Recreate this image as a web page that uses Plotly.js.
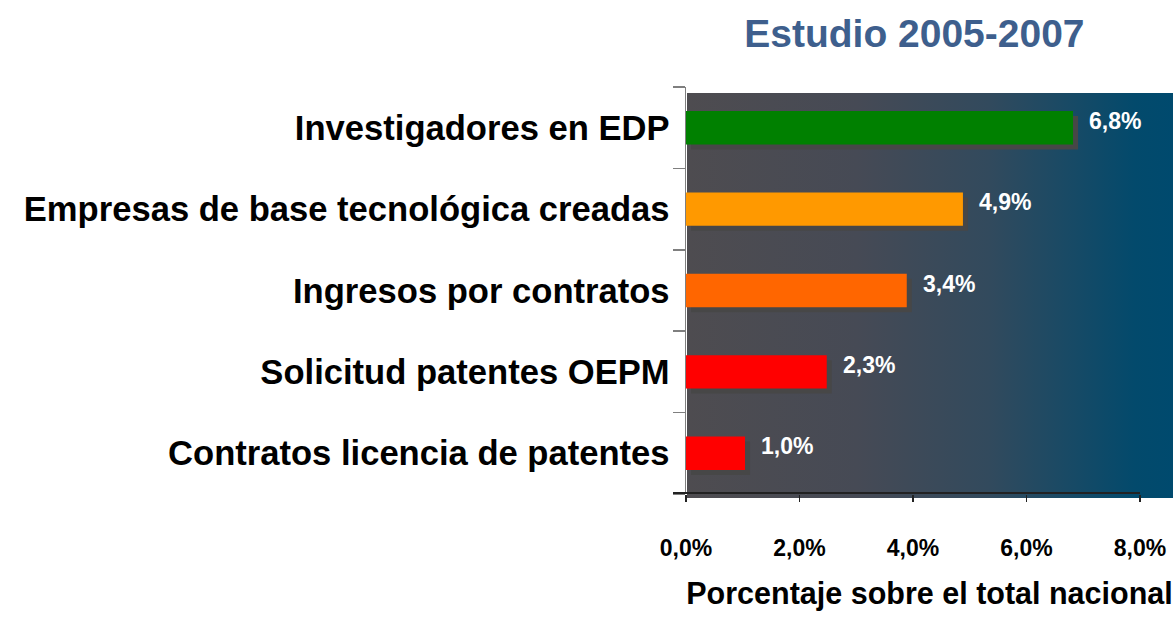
<!DOCTYPE html>
<html>
<head>
<meta charset="utf-8">
<script src="https://cdn.plot.ly/plotly-3.0.1.min.js"></script>
<style>
  html, body { margin: 0; padding: 0; background: #ffffff; }
  #chart { width: 1173px; height: 626px; }
</style>
</head>
<body>
<div id="chart"></div>
<script>
// Categories listed bottom to top
const categories = [
  "Contratos licencia de patentes",
  "Solicitud patentes OEPM",
  "Ingresos por contratos",
  "Empresas de base tecnológica creadas",
  "Investigadores en EDP"
];
// Bar lengths as drawn in the picture (percent)
const barValues = [1.04, 2.48, 3.89, 4.88, 6.82];
// Value labels as printed next to the bars
const valueLabels = ["1,0%", "2,3%", "3,4%", "4,9%", "6,8%"];
const barColors = ["#FF0000", "#FF0000", "#FF6600", "#FF9900", "#008000"];
const tickVals = [0, 2, 4, 6, 8];
const tickLabels = ["0,0%", "2,0%", "4,0%", "6,0%", "8,0%"];
const chartTitle = "Estudio 2005-2007";
const axisTitle = "Porcentaje sobre el total nacional";

const FONT = "Liberation Sans, Arial, Helvetica, sans-serif";
const pxPerUnitX = 56.75;   // 8% spans 454 px
const pxPerCat = 81.3;
const barWidth = 0.41;
const shadowPx = 5;

const shadow = {
  type: 'bar',
  orientation: 'h',
  y: categories,
  x: barValues,
  base: shadowPx / pxPerUnitX,
  width: barWidth,
  offset: -barWidth / 2 - shadowPx / pxPerCat,
  marker: { color: '#474747', line: { width: 0 } },
  hoverinfo: 'skip',
  showlegend: false
};

const bars = {
  type: 'bar',
  orientation: 'h',
  y: categories,
  x: barValues,
  width: barWidth,
  marker: { color: barColors, line: { width: 0 } },
  hoverinfo: 'skip',
  showlegend: false
};

const annotations = barValues.map((v, i) => ({
  x: v, y: categories[i], xref: 'x', yref: 'y',
  text: valueLabels[i], showarrow: false,
  xanchor: 'left', yanchor: 'middle',
  xshift: 14, yshift: 7,
  font: { family: FONT, size: 23, color: '#ffffff', weight: 'bold' }
}));

const gradSvg =
  "<svg xmlns='http://www.w3.org/2000/svg' width='486' height='405' preserveAspectRatio='none'>" +
  "<defs><linearGradient id='g' x1='0' y1='0' x2='1' y2='0'>" +
  "<stop offset='0' stop-color='#4e4c50'/>" +
  "<stop offset='0.35' stop-color='#464a55'/>" +
  "<stop offset='0.62' stop-color='#324a5d'/>" +
  "<stop offset='0.82' stop-color='#134a67'/>" +
  "<stop offset='0.92' stop-color='#034a6c'/>" +
  "<stop offset='1' stop-color='#004a6e'/>" +
  "</linearGradient></defs>" +
  "<rect x='0' y='0' width='486' height='405' fill='url(#g)'/></svg>";
const gradUri = "data:image/svg+xml;charset=utf-8," + encodeURIComponent(gradSvg);

const plotW = 487, plotH = 407;

const layout = {
  width: 1173,
  height: 626,
  margin: { l: 686, r: 0, t: 87, b: 132, pad: 0 },
  paper_bgcolor: '#ffffff',
  plot_bgcolor: 'rgba(0,0,0,0)',
  barmode: 'overlay',
  showlegend: false,
  title: {
    text: chartTitle,
    font: { family: FONT, size: 39, color: '#3E5F8D', weight: 'bold' },
    xref: 'paper', x: 0.469, xanchor: 'center',
    yref: 'container', y: 1 - 33 / 626, yanchor: 'middle'
  },
  xaxis: {
    range: [0, plotW / pxPerUnitX],
    tickvals: tickVals,
    ticktext: tickLabels,
    ticks: 'outside', ticklen: 7, tickwidth: 1.5, tickcolor: '#222222',
    ticklabelstandoff: 26,
    showgrid: false, zeroline: false, showline: false,
    tickfont: { family: FONT, size: 23, color: '#000000', weight: 'bold' },
    title: {
      text: axisTitle,
      font: { family: FONT, size: 30.5, color: '#000000', weight: 'bold' },
      standoff: 23
    },
    fixedrange: true
  },
  yaxis: {
    type: 'category',
    categoryorder: 'array',
    categoryarray: categories,
    range: [-0.5, categories.length - 0.5],
    tickson: 'boundaries',
    ticks: 'outside', ticklen: 12, tickwidth: 1.5, tickcolor: '#7f7f7f',
    ticklabelstandoff: 8,
    showline: true, linecolor: '#7f7f7f', linewidth: 1.5,
    showgrid: false, zeroline: false,
    tickfont: { family: FONT, size: 34.6, color: '#000000', weight: 'bold' },
    fixedrange: true
  },
  images: [{
    source: gradUri,
    xref: 'paper', yref: 'paper',
    x: 1 / plotW, y: 1 - 6 / plotH,
    sizex: 1 - 1 / plotW, sizey: (498 - 93) / plotH,
    xanchor: 'left', yanchor: 'top',
    sizing: 'stretch', layer: 'below'
  }],
  shapes: [{
    type: 'line', xref: 'paper', yref: 'paper',
    x0: -13 / plotW, x1: 454 / plotW, y0: 1 / plotH, y1: 1 / plotH,
    line: { color: '#222222', width: 2 }
  }],
  annotations: annotations
};

Plotly.newPlot('chart', [shadow, bars], layout, { displayModeBar: false, staticPlot: true });
</script>
</body>
</html>
